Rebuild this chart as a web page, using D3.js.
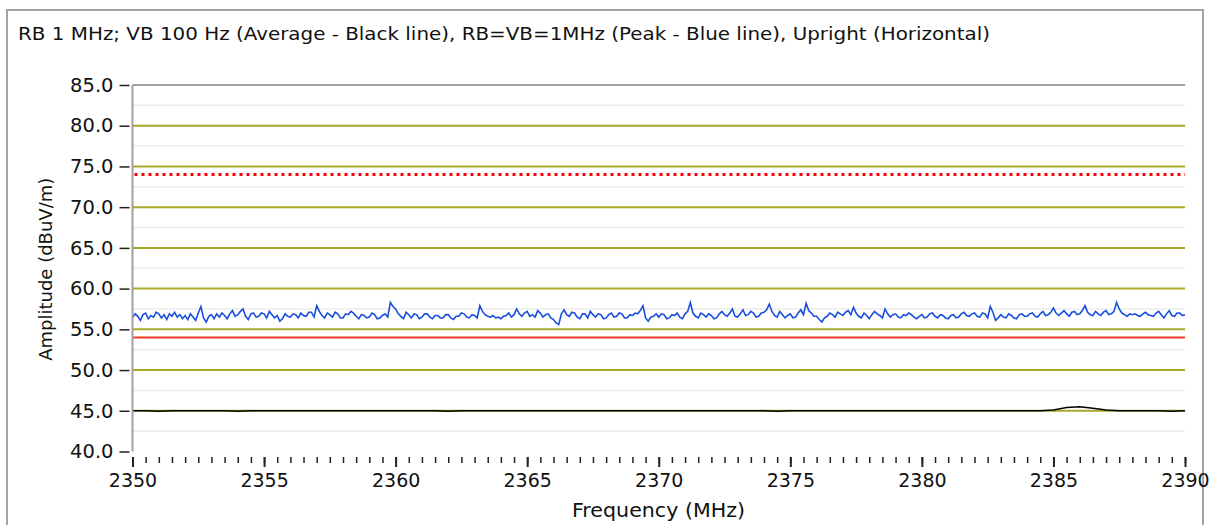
<!DOCTYPE html>
<html>
<head>
<meta charset="utf-8">
<script src="https://cdn.jsdelivr.net/npm/d3@7"></script>
<style>
  body { margin: 0; background: #fff; }
  svg { display: block; font-family: "DejaVu Sans", sans-serif; }
  .tick text { fill: #111; }
</style>
</head>
<body>
<div id="chart"></div>
<script>
const title = "RB 1 MHz; VB 100 Hz (Average - Black line), RB=VB=1MHz (Peak - Blue line), Upright (Horizontal)";
const xLabel = "Frequency (MHz)";
const yLabel = "Amplitude (dBuV/m)";

const xMajorTicks = [2350, 2355, 2360, 2365, 2370, 2375, 2380, 2385, 2390];
const yMajorTicks = [40, 45, 50, 55, 60, 65, 70, 75, 80, 85];
const yGridOlive = [45, 50, 55, 60, 65, 70, 75, 80];
const yGridMinor = [42.5, 47.5, 52.5, 57.5, 62.5, 67.5, 72.5, 77.5, 82.5];

const limitPeak = 74;     // red dotted
const limitAvg = 54;      // red solid

// peak trace, 2350..2390 MHz, one reading every 0.1 MHz (a row = 2 MHz)
const peakValues = [
  56.4, 56.9, 56.6, 56.1, 56.8, 57.0, 56.3, 56.7, 56.5, 57.1, 56.9, 56.4, 56.8, 56.2, 56.9, 56.6, 57.1, 56.5, 56.8, 56.3,
  56.7, 56.2, 56.9, 56.5, 56.1, 57.0, 57.8, 56.4, 55.9, 56.6, 56.8, 56.3, 56.9, 56.5, 57.0, 56.7, 56.3, 56.9, 57.3, 56.6,
  56.8, 57.2, 57.5, 56.6, 56.2, 56.9, 57.0, 56.5, 56.6, 57.0, 56.9, 56.4, 57.2, 56.8, 56.4, 56.7, 56.0, 56.3, 56.9, 56.6,
  56.5, 56.9, 56.8, 56.4, 57.0, 56.7, 56.6, 57.1, 57.1, 56.5, 57.9, 57.2, 56.7, 56.4, 57.0, 56.8, 56.5, 57.1, 56.9, 56.4,
  56.4, 56.9, 56.8, 57.2, 57.0, 56.6, 56.3, 56.8, 56.7, 56.4, 56.5, 57.0, 56.8, 56.3, 56.4, 56.7, 56.9, 56.5, 58.3, 57.8,
  57.5, 56.9, 56.6, 56.3, 57.1, 56.8, 56.4, 56.9, 56.8, 56.3, 56.5, 56.9, 56.9, 56.5, 56.3, 56.7, 56.7, 56.4, 56.4, 56.8,
  56.8, 56.4, 56.2, 56.6, 56.6, 57.0, 56.9, 56.5, 56.4, 56.8, 56.7, 56.4, 57.9, 57.2, 56.8, 56.6, 56.5, 56.7, 56.4, 56.5,
  56.3, 56.6, 56.7, 57.0, 56.5, 56.8, 57.5, 56.9, 56.6, 57.0, 57.2, 56.6, 56.8, 56.5, 57.3, 57.0, 56.5, 56.8, 56.9, 56.4,
  56.2, 55.8, 55.6, 56.9, 57.4, 56.8, 56.6, 57.1, 57.0, 56.5, 56.3, 56.9, 56.9, 56.4, 57.2, 56.8, 56.5, 56.9, 56.8, 56.3,
  56.4, 56.8, 57.0, 56.5, 56.6, 57.0, 56.9, 56.4, 56.4, 56.8, 56.7, 57.0, 56.9, 57.3, 57.9, 56.4, 56.0, 56.5, 56.6, 56.9,
  56.5, 56.9, 56.8, 56.3, 56.4, 56.8, 56.7, 57.0, 56.5, 56.3, 56.9, 57.2, 58.3, 57.0, 56.6, 56.4, 57.0, 56.8, 56.5, 56.9,
  56.7, 56.3, 56.4, 56.9, 57.2, 56.8, 56.6, 57.0, 57.5, 56.6, 56.5, 56.9, 57.4, 56.7, 56.8, 57.2, 57.0, 56.5, 56.6, 57.0,
  57.1, 57.4, 58.1, 57.2, 56.7, 56.5, 57.2, 56.8, 56.4, 56.7, 56.9, 56.4, 56.5, 57.0, 57.4, 56.8, 58.2, 57.3, 57.0, 56.6,
  56.6, 56.2, 55.9, 56.4, 56.6, 57.0, 56.8, 56.5, 57.1, 56.9, 56.7, 57.1, 57.3, 56.8, 57.7, 57.0, 56.6, 56.4, 57.0, 56.7,
  56.3, 56.8, 57.2, 56.9, 56.7, 56.4, 57.5, 56.9, 56.5, 56.8, 56.9, 56.5, 56.4, 56.8, 56.7, 57.0, 56.8, 56.5, 56.3, 56.6,
  56.8, 56.4, 56.5, 56.9, 57.0, 56.6, 56.4, 56.8, 56.7, 56.4, 56.3, 56.7, 56.8, 56.4, 56.5, 56.9, 57.1, 56.7, 56.6, 56.9,
  57.0, 56.6, 56.5, 57.0, 56.9, 56.4, 57.8, 57.1, 56.1, 56.4, 56.8, 56.5, 56.4, 56.9, 56.7, 56.4, 56.3, 56.8, 56.9, 56.6,
  56.6, 56.9, 57.0, 56.6, 56.5, 56.9, 57.2, 56.7, 56.8, 57.1, 57.6, 57.0, 56.7, 57.0, 57.3, 56.9, 56.6, 57.1, 57.2, 56.8,
  56.9, 57.3, 57.9, 57.1, 56.8, 56.7, 57.2, 56.9, 56.7, 57.1, 57.3, 56.8, 56.9, 57.2, 58.3, 57.5, 57.0, 56.8, 56.6, 56.9,
  56.8, 56.9, 56.7, 56.6, 56.9, 57.1, 56.8, 56.7, 56.6, 57.0, 57.2, 56.8, 56.4, 56.9, 57.3, 56.7, 56.6, 57.0, 57.0, 56.7,
  56.8
];

// average trace, 2350..2390 MHz, one reading every 0.5 MHz
const avgValues = [
  45.0, 45.0, 44.95, 45.0, 45.0, 45.0, 45.0, 45.0, 44.95, 45.0,
  45.0, 45.0, 45.0, 45.0, 45.0, 45.0, 45.0, 45.0, 45.0, 45.0,
  45.0, 45.0, 45.0, 45.0, 44.95, 45.0, 45.0, 45.0, 45.0, 45.0,
  45.0, 45.0, 45.0, 45.0, 45.0, 45.0, 45.0, 45.0, 45.0, 45.0,
  45.0, 45.0, 45.0, 45.0, 45.0, 45.0, 45.0, 45.0, 45.0, 44.95,
  45.0, 45.0, 45.0, 45.0, 45.0, 45.0, 45.0, 45.0, 45.0, 45.0,
  45.0, 45.0, 45.0, 45.0, 45.0, 45.0, 45.0, 45.0, 45.0, 45.0,
  45.1, 45.4, 45.5, 45.3, 45.1, 45.0, 45.0, 45.0, 45.0, 44.95, 45.0
];

const width = 1209, height = 525;
const plot = { left: 132.5, right: 1185, top: 85, bottom: 451.5 };

const svg = d3.select("#chart").append("svg")
  .attr("width", width)
  .attr("height", height);

// outer frame
svg.append("path")
  .attr("d", `M7,${height + 5}V10H1203V${height + 5}`)
  .attr("fill", "none")
  .attr("stroke", "#a3a3a3")
  .attr("stroke-width", 2);

svg.append("text")
  .attr("x", 18)
  .attr("y", 40)
  .attr("font-size", 17)
  .attr("fill", "#111")
  .attr("textLength", 972)
  .attr("lengthAdjust", "spacingAndGlyphs")
  .text(title);

const x = d3.scaleLinear().domain([2350, 2390]).range([plot.left, plot.right]);
const y = d3.scaleLinear().domain([40, 85]).range([plot.bottom, plot.top]);

// grid
svg.append("g").selectAll("line")
  .data(yGridMinor)
  .join("line")
  .attr("x1", plot.left).attr("x2", plot.right)
  .attr("y1", d => y(d)).attr("y2", d => y(d))
  .attr("stroke", "#ececec")
  .attr("stroke-width", 1.5);

svg.append("g").selectAll("line")
  .data(yGridOlive)
  .join("line")
  .attr("x1", plot.left).attr("x2", plot.right)
  .attr("y1", d => y(d)).attr("y2", d => y(d))
  .attr("stroke", "#a9a928")
  .attr("stroke-width", 2);

// top border of plot
svg.append("line")
  .attr("x1", plot.left).attr("x2", plot.right)
  .attr("y1", y(85)).attr("y2", y(85))
  .attr("stroke", "#a0a0a0")
  .attr("stroke-width", 2);

// limit lines
svg.append("line")
  .attr("x1", plot.left + 2).attr("x2", plot.right)
  .attr("y1", y(limitPeak)).attr("y2", y(limitPeak))
  .attr("stroke", "#ff0000")
  .attr("stroke-width", 3)
  .attr("stroke-dasharray", "3,4");

svg.append("line")
  .attr("x1", plot.left).attr("x2", plot.right)
  .attr("y1", y(limitAvg)).attr("y2", y(limitAvg))
  .attr("stroke", "#f03a26")
  .attr("stroke-width", 2);

// traces, readings spread evenly over the span
const line = d3.line().x(d => x(d[0])).y(d => y(d[1]));
const spread = vals => vals.map((v, i) => [2350 + i * 40 / (vals.length - 1), v]);

svg.append("path")
  .datum(spread(avgValues))
  .attr("d", line)
  .attr("fill", "none")
  .attr("stroke", "#000")
  .attr("stroke-width", 1.5);

svg.append("path")
  .datum(spread(peakValues))
  .attr("d", line)
  .attr("fill", "none")
  .attr("stroke", "#1a4fdc")
  .attr("stroke-width", 1.6);

// left axis line
svg.append("line")
  .attr("x1", plot.left).attr("x2", plot.left)
  .attr("y1", plot.top).attr("y2", plot.bottom)
  .attr("stroke", "#a0a0a0")
  .attr("stroke-width", 2);

// y axis
const yAxis = svg.append("g")
  .attr("transform", `translate(${plot.left - 3},0)`)
  .call(d3.axisLeft(y).tickValues(yMajorTicks).tickFormat(d3.format(".1f")).tickSize(10).tickPadding(6));
yAxis.select(".domain").remove();
yAxis.selectAll(".tick line").attr("stroke", "#222").attr("stroke-width", 1.5);
yAxis.selectAll(".tick text").attr("font-size", 19.5).attr("font-family", "DejaVu Sans");

// x axis: minor ticks every 0.5 MHz, major every 5 MHz
const xMinor = svg.append("g")
  .attr("transform", `translate(0,${plot.bottom + 5.5})`)
  .call(d3.axisBottom(x).ticks(80).tickSize(6).tickFormat(""));
xMinor.select(".domain").remove();
xMinor.selectAll(".tick line").attr("stroke", "#222").attr("stroke-width", 1.5);

const xAxis = svg.append("g")
  .attr("transform", `translate(0,${plot.bottom + 5.5})`)
  .call(d3.axisBottom(x).tickValues(xMajorTicks).tickFormat(d3.format("d")).tickSize(10).tickPadding(7));
xAxis.select(".domain").remove();
xAxis.selectAll(".tick line").attr("stroke", "#222").attr("stroke-width", 2);
xAxis.selectAll(".tick text").attr("font-size", 19).attr("font-family", "DejaVu Sans");

// axis titles
svg.append("text")
  .attr("x", 658.5)
  .attr("y", 517)
  .attr("text-anchor", "middle")
  .attr("font-size", 19)
  .attr("fill", "#111")
  .attr("textLength", 173)
  .attr("lengthAdjust", "spacingAndGlyphs")
  .text(xLabel);

svg.append("text")
  .attr("transform", `translate(52,${(plot.top + plot.bottom) / 2 + 1}) rotate(-90)`)
  .attr("text-anchor", "middle")
  .attr("font-size", 18)
  .attr("fill", "#111")
  .text(yLabel);
</script>
</body>
</html>
